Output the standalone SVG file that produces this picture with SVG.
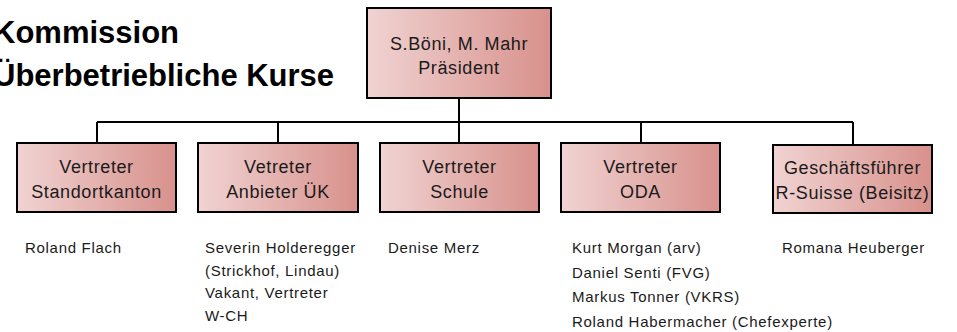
<svg xmlns="http://www.w3.org/2000/svg" width="957" height="332" viewBox="0 0 957 332">
<defs>
<linearGradient id="g" x1="0" y1="0" x2="1" y2="0">
<stop offset="0" stop-color="#F0D3D2"/>
<stop offset="1" stop-color="#D8918C"/>
</linearGradient>
</defs>
<style>
.box{fill:url(#g);stroke:#000;stroke-width:2}
.bt{font-family:"Liberation Sans",Arial,sans-serif;font-size:18px;letter-spacing:0.6px;fill:#1a1a1a;text-anchor:middle}
.nm{font-family:"Liberation Sans",Arial,sans-serif;font-size:15px;letter-spacing:0.7px;fill:#1a1a1a}
.title{font-family:"Liberation Sans",Arial,sans-serif;font-size:31px;font-weight:bold;fill:#000}
.con{fill:none;stroke:#000;stroke-width:2}
</style>
<rect width="957" height="332" fill="#fff"/>
<g id="title">
<text class="title" x="-7" y="43">Kommission</text>
<text class="title" x="-7" y="86">Überbetriebliche Kurse</text>
</g>
<g id="connectors">
<path class="con" d="M459 98 V122 M97 122 H853 M97 122 V143 M278 122 V143 M459 122 V143 M641 122 V143 M853 122 V145"/>
</g>
<g id="president">
<rect class="box" x="367" y="8" width="184" height="90"/>
<text class="bt" x="459" y="50">S.Böni, M. Mahr</text>
<text class="bt" x="459" y="74">Präsident</text>
</g>
<g id="standortkanton">
<rect class="box" x="17" y="143" width="159" height="69"/>
<text class="bt" x="96.5" y="173">Vertreter</text>
<text class="bt" x="96.5" y="198">Standortkanton</text>
</g>
<g id="anbieter">
<rect class="box" x="198" y="143" width="160" height="69"/>
<text class="bt" x="278" y="173">Vetreter</text>
<text class="bt" x="278" y="198">Anbieter ÜK</text>
</g>
<g id="schule">
<rect class="box" x="380" y="143" width="159" height="69"/>
<text class="bt" x="459.5" y="173">Vertreter</text>
<text class="bt" x="459.5" y="198">Schule</text>
</g>
<g id="oda">
<rect class="box" x="561" y="143" width="159" height="69"/>
<text class="bt" x="640.5" y="173">Vertreter</text>
<text class="bt" x="640.5" y="198">ODA</text>
</g>
<g id="geschaeftsfuehrer">
<rect class="box" x="773" y="145" width="159" height="68"/>
<text class="bt" x="852.5" y="174" letter-spacing="0.2">Geschäftsführer</text>
<text class="bt" x="852.5" y="199" letter-spacing="0.2">R-Suisse (Beisitz)</text>
</g>
<g id="names">
<text class="nm" x="25" y="253">Roland Flach</text>
<text class="nm" x="205" y="253">Severin Holderegger</text>
<text class="nm" x="205" y="276">(Strickhof, Lindau)</text>
<text class="nm" x="205" y="298">Vakant, Vertreter</text>
<text class="nm" x="205" y="321">W-CH</text>
<text class="nm" x="388" y="253">Denise Merz</text>
<text class="nm" x="572" y="253">Kurt Morgan (arv)</text>
<text class="nm" x="572" y="278">Daniel Senti (FVG)</text>
<text class="nm" x="572" y="302">Markus Tonner (VKRS)</text>
<text class="nm" x="572" y="327">Roland Habermacher (Chefexperte)</text>
<text class="nm" x="782" y="253" letter-spacing="0.4">Romana Heuberger</text>
</g>
</svg>
